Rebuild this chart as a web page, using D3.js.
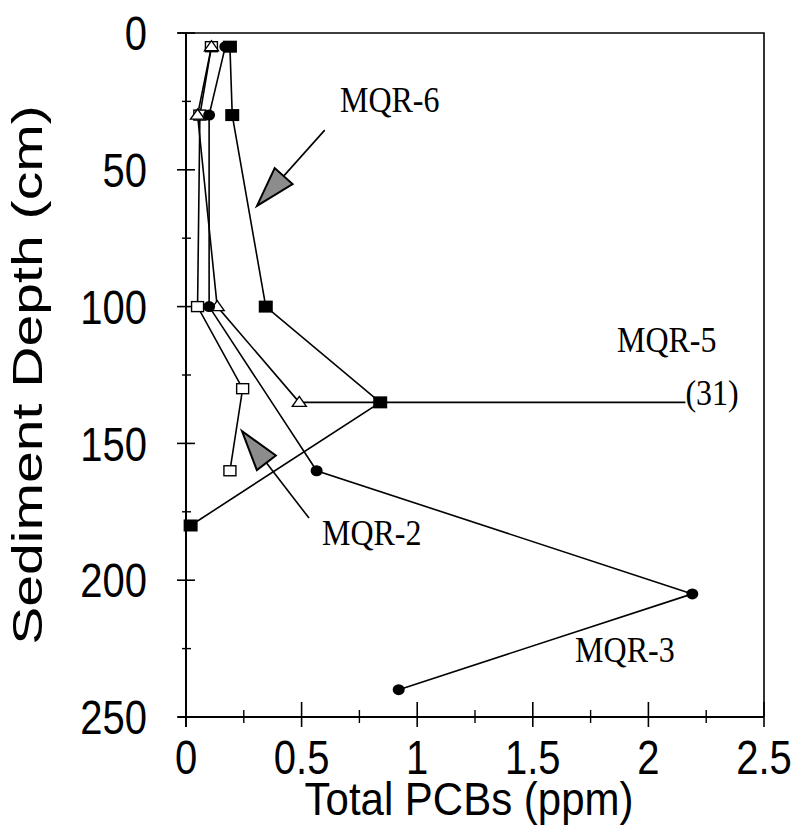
<!DOCTYPE html>
<html>
<head>
<meta charset="utf-8">
<script src="https://cdn.jsdelivr.net/npm/d3@7"></script>
<style>
  body { margin: 0; background: #fff; }
  .tick-label { font-family: "Liberation Sans", Arial, sans-serif; font-size: 40px; }
  .axis-title { font-family: "Liberation Sans", Arial, sans-serif; font-size: 42px; }
  .core-label { font-family: "Liberation Serif", "Times New Roman", serif; font-size: 32px; }
</style>
</head>
<body>
<div id="chart-area"></div>
<script>
// depth (cm) vs total PCBs (ppm), one array per core
const mqr6Depth = [5, 30, 100, 135, 180];
const mqr6Pcb = [0.19, 0.2, 0.345, 0.84, 0.02];

const mqr5Depth = [5, 30, 100, 135];
const mqr5Pcb = [0.11, 0.05, 0.135, 0.49];

const mqr3Depth = [5, 30, 100, 160, 205, 240];
const mqr3Pcb = [0.17, 0.1, 0.1, 0.565, 2.19, 0.92];

const mqr2Depth = [5, 30, 100, 130, 160];
const mqr2Pcb = [0.11, 0.06, 0.05, 0.245, 0.19];

// off-scale value for MQR-5 at 135 cm, drawn up to where the label starts
const offScaleDepth = 135;
const offScaleValue = '(31)';
const offScaleEnd = 2.16;

const xTicks = [0, 0.5, 1, 1.5, 2, 2.5];
const xMinor = [0.25, 0.75, 1.25, 1.75, 2.25];
const yTicks = [0, 50, 100, 150, 200, 250];
const yMinor = [25, 75, 125, 175, 225];

const labels = [
  { text: 'MQR-6', x: 0.666, y: 29 },
  { text: 'MQR-5', x: 1.864, y: 116.5 },
  { text: 'MQR-3', x: 1.683, y: 230 },
  { text: 'MQR-2', x: 0.588, y: 187 }
];
// annotation arrows: tail -> tip, in data units
const arrows = [
  { from: [0.6, 35.5], to: [0.307, 63.2] },
  { from: [0.532, 177.3], to: [0.242, 145.5] }
];

const chartSize = { width: 794, height: 838 };
const margin = { left: 186, right: 30, top: 33, bottom: 121 };
const width = chartSize.width - margin.left - margin.right;
const height = chartSize.height - margin.top - margin.bottom;
const stretch = 1.2; // lettering in the source is drawn tall and narrow

const x = d3.scaleLinear().domain([0, 2.5]).range([0, width]);
const y = d3.scaleLinear().domain([0, 250]).range([0, height]);

const svg = d3.select('#chart-area').append('svg')
  .attr('width', chartSize.width)
  .attr('height', chartSize.height);

const g = svg.append('g').attr('transform', `translate(${margin.left},${margin.top})`);

// frame: top and right borders
g.append('path')
  .attr('d', `M${-8},0H${width}V${height}`)
  .attr('fill', 'none').attr('stroke', '#000').attr('stroke-width', 1.6);

// axes drawn by hand so ticks can cross the lines
const xAxisG = g.append('g').attr('transform', `translate(0,${height})`);
xAxisG.append('line').attr('x1', -8).attr('x2', width).attr('stroke', '#000').attr('stroke-width', 2.2);
xAxisG.selectAll('.major').data(xTicks).join('line')
  .attr('x1', d => x(d)).attr('x2', d => x(d))
  .attr('y1', -15).attr('y2', 10)
  .attr('stroke', '#000').attr('stroke-width', 1.6);
xAxisG.selectAll('.minor').data(xMinor).join('line')
  .attr('class', 'minor')
  .attr('x1', d => x(d)).attr('x2', d => x(d))
  .attr('y1', -7).attr('y2', 6)
  .attr('stroke', '#000').attr('stroke-width', 1.4);
xAxisG.selectAll('text').data(xTicks).join('text')
  .attr('class', 'tick-label')
  .attr('transform', d => `translate(${x(d)},57) scale(1,${stretch})`)
  .attr('text-anchor', 'middle')
  .text(d => d);

const yAxisG = g.append('g');
yAxisG.append('line').attr('y1', 0).attr('y2', height + 10).attr('stroke', '#000').attr('stroke-width', 2);
yAxisG.selectAll('.major').data(yTicks).join('line')
  .attr('y1', d => y(d)).attr('y2', d => y(d))
  .attr('x1', -9).attr('x2', 9)
  .attr('stroke', '#000').attr('stroke-width', 1.6);
yAxisG.selectAll('.minor').data(yMinor).join('line')
  .attr('class', 'minor')
  .attr('y1', d => y(d)).attr('y2', d => y(d))
  .attr('x1', -4).attr('x2', 5)
  .attr('stroke', '#000').attr('stroke-width', 1.4);
yAxisG.selectAll('text').data(yTicks).join('text')
  .attr('class', 'tick-label')
  .attr('transform', d => `translate(-39,${y(d)}) scale(1,${stretch})`)
  .attr('dy', '0.36em')
  .attr('text-anchor', 'end')
  .text(d => d);

svg.append('text')
  .attr('class', 'axis-title')
  .attr('text-anchor', 'middle')
  .attr('transform', `translate(${margin.left + width / 2 - 6},${margin.top + height + 98}) scale(1,1.1)`)
  .text('Total PCBs (ppm)');

svg.append('text')
  .attr('class', 'axis-title')
  .attr('text-anchor', 'middle')
  .attr('transform', `translate(42,${margin.top + height / 2}) rotate(-90) scale(1.36,1)`)
  .text('Sediment Depth (cm)');

const toPoints = (pcb, depth) => pcb.map((v, i) => ({ v, d: depth[i] }));
const line = d3.line().x(p => x(p.v)).y(p => y(p.d));

const series = [
  { pts: toPoints(mqr2Pcb, mqr2Depth), marker: 'openSquare' },
  { pts: toPoints(mqr5Pcb, mqr5Depth), marker: 'openTriangle' },
  { pts: toPoints(mqr3Pcb, mqr3Depth), marker: 'circle' },
  { pts: toPoints(mqr6Pcb, mqr6Depth), marker: 'square' }
];

// MQR-5 off-scale segment
g.append('line')
  .attr('x1', x(mqr5Pcb[mqr5Pcb.length - 1])).attr('x2', x(offScaleEnd))
  .attr('y1', y(offScaleDepth)).attr('y2', y(offScaleDepth))
  .attr('stroke', '#000').attr('stroke-width', 1.8);

series.forEach(s => {
  g.append('path')
    .datum(s.pts)
    .attr('d', line)
    .attr('fill', 'none')
    .attr('stroke', '#000')
    .attr('stroke-width', 1.6);
});

series.forEach(s => {
  const m = g.selectAll(null).data(s.pts).enter();
  if (s.marker === 'square') {
    m.append('rect')
      .attr('x', p => x(p.v) - 7).attr('y', p => y(p.d) - 6)
      .attr('width', 14).attr('height', 12).attr('fill', '#000');
  } else if (s.marker === 'openSquare') {
    m.append('rect')
      .attr('x', p => x(p.v) - 6).attr('y', p => y(p.d) - 5)
      .attr('width', 12).attr('height', 10)
      .attr('fill', '#fff').attr('stroke', '#000').attr('stroke-width', 1.4);
  } else if (s.marker === 'circle') {
    m.append('ellipse')
      .attr('cx', p => x(p.v)).attr('cy', p => y(p.d))
      .attr('rx', 6).attr('ry', 5.5).attr('fill', '#000');
  } else {
    m.append('path')
      .attr('d', p => `M${x(p.v)},${y(p.d) - 6}L${x(p.v) + 7},${y(p.d) + 4}L${x(p.v) - 7},${y(p.d) + 4}Z`)
      .attr('fill', '#fff').attr('stroke', '#000').attr('stroke-width', 1.4);
  }
});

g.append('text')
  .attr('class', 'core-label')
  .attr('transform', `translate(${x(offScaleEnd)},${y(offScaleDepth) + 3}) scale(1,1.1)`)
  .text(offScaleValue);

g.selectAll('.lbl').data(labels).join('text')
  .attr('class', 'core-label')
  .attr('transform', d => `translate(${x(d.x)},${y(d.y)}) scale(1,1.1)`)
  .text(d => d.text);

// arrows with shaded triangular heads
arrows.forEach(a => {
  const [x0, y0] = [x(a.from[0]), y(a.from[1])];
  const [x1, y1] = [x(a.to[0]), y(a.to[1])];
  const len = Math.hypot(x1 - x0, y1 - y0);
  const ux = (x1 - x0) / len, uy = (y1 - y0) / len;
  const bx = x1 - ux * 40, by = y1 - uy * 40;
  g.append('line')
    .attr('x1', x0).attr('y1', y0).attr('x2', bx).attr('y2', by)
    .attr('stroke', '#000').attr('stroke-width', 1.6);
  g.append('path')
    .attr('d', `M${x1},${y1}L${bx - uy * 12},${by + ux * 12}L${bx + uy * 12},${by - ux * 12}Z`)
    .attr('fill', '#8c8c8c').attr('stroke', '#000').attr('stroke-width', 2);
});
</script>
</body>
</html>
